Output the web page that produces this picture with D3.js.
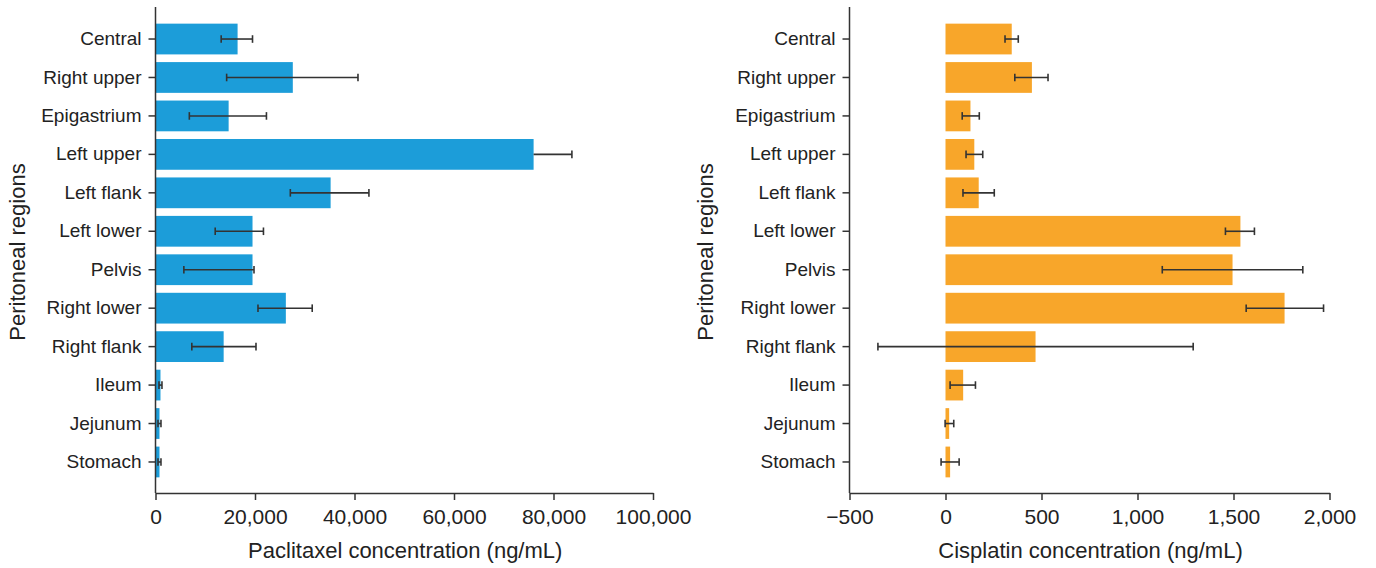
<!DOCTYPE html>
<html>
<head>
<meta charset="utf-8">
<script src="https://cdn.jsdelivr.net/npm/d3@7"></script>
<style>
  html, body { margin: 0; padding: 0; background: #fff; }
  svg { display: block; font-family: "Liberation Sans", Arial, sans-serif; }
  .axis path, .axis line { stroke: #333; stroke-width: 1.5; }
  .axis text { fill: #222; }
</style>
</head>
<body>
<svg id="chart" width="1376" height="568"></svg>
<script>
// Peritoneal regions, top to bottom
const categories = ["Central", "Right upper", "Epigastrium", "Left upper", "Left flank", "Left lower",
  "Pelvis", "Right lower", "Right flank", "Ileum", "Jejunum", "Stomach"];

// Paclitaxel concentration (ng/mL): mean with lower / upper error limits
const paclitaxelMean = [16500, 27600, 14700, 76000, 35200, 19500, 19500, 26200, 13700, 1000, 800, 800];
const paclitaxelLow  = [13200, 14300, 6800, null, 27100, 12000, 5700, 20600, 7300, 700, 500, 500];
const paclitaxelHigh = [19500, 40700, 22300, 83700, 42900, 21700, 19800, 31500, 20200, 1300, 1100, 1100];

// Cisplatin concentration (ng/mL): mean with lower / upper error limits
const cisplatinMean = [345, 450, 130, 150, 173, 1536, 1495, 1766, 469, 92, 19, 24];
const cisplatinLow  = [310, 361, 87, 107, 91, 1458, 1129, 1566, -352, 24, -2, -23];
const cisplatinHigh = [379, 534, 176, 194, 254, 1609, 1861, 1969, 1290, 156, 43, 71];

const paclitaxelTicks = [0, 20000, 40000, 60000, 80000, 100000];
const cisplatinTicks = [-500, 0, 500, 1000, 1500, 2000];

const svg = d3.select("#chart");
const axisY = 493;     // baseline of the value axis
const axisTop = 7;     // top end of the category axis line

const y = d3.scaleBand()
  .domain(categories)
  .range([19.8, 481.2])
  .paddingInner(0.2)
  .paddingOuter(0.1);

function panel({ left, right, domain, ticks, mean, low, high, color, title, yTitleX }) {
  const x = d3.scaleLinear().domain(domain).range([left, right]);
  const g = svg.append("g");
  const rows = categories.map((c, i) => ({ c, m: mean[i], lo: low[i], hi: high[i] }));

  // bars
  g.append("g").selectAll("rect").data(rows).join("rect")
    .attr("x", d => x(Math.min(0, d.m)))
    .attr("y", d => y(d.c))
    .attr("width", d => Math.abs(x(d.m) - x(0)))
    .attr("height", y.bandwidth())
    .attr("fill", color);

  // error bars
  const cap = 3.8;
  const eb = g.append("g").attr("stroke", "#333").attr("stroke-width", 1.6).attr("fill", "none");
  rows.forEach(d => {
    const cy = y(d.c) + y.bandwidth() / 2;
    const from = d.lo == null ? d.m : d.lo;
    eb.append("line").attr("x1", x(from)).attr("x2", x(d.hi)).attr("y1", cy).attr("y2", cy);
    eb.append("line").attr("x1", x(d.hi)).attr("x2", x(d.hi)).attr("y1", cy - cap).attr("y2", cy + cap);
    if (d.lo != null) {
      eb.append("line").attr("x1", x(d.lo)).attr("x2", x(d.lo)).attr("y1", cy - cap).attr("y2", cy + cap);
    }
  });

  // category axis
  const ya = g.append("g").attr("class", "axis")
    .attr("transform", `translate(${left},0)`)
    .call(d3.axisLeft(y).tickSize(7).tickPadding(7).tickSizeOuter(0));
  ya.select(".domain").remove();
  ya.selectAll("text").attr("font-size", 19);
  g.append("line").attr("class", "axisline")
    .attr("x1", left).attr("x2", left).attr("y1", axisTop).attr("y2", axisY)
    .attr("stroke", "#333").attr("stroke-width", 1.5);

  // value axis
  const xa = g.append("g").attr("class", "axis")
    .attr("transform", `translate(0,${axisY})`)
    .call(d3.axisBottom(x).tickValues(ticks).tickFormat(d3.format(",")).tickSize(7).tickPadding(9).tickSizeOuter(0));
  xa.selectAll("text").attr("font-size", 21);

  g.append("text")
    .attr("x", (left + right) / 2 + 1).attr("y", 558)
    .attr("text-anchor", "middle").attr("font-size", 22).attr("fill", "#222")
    .text(title);

  g.append("text")
    .attr("transform", `translate(${yTitleX},252) rotate(-90)`)
    .attr("text-anchor", "middle").attr("font-size", 22).attr("fill", "#222")
    .text("Peritoneal regions");
}

panel({
  left: 155.5, right: 653, domain: [0, 100000], ticks: paclitaxelTicks,
  mean: paclitaxelMean, low: paclitaxelLow, high: paclitaxelHigh,
  color: "#1c9dd9", title: "Paclitaxel concentration (ng/mL)", yTitleX: 25
});

panel({
  left: 849.5, right: 1329.5, domain: [-500, 2000], ticks: cisplatinTicks,
  mean: cisplatinMean, low: cisplatinLow, high: cisplatinHigh,
  color: "#f8a62a", title: "Cisplatin concentration (ng/mL)", yTitleX: 713
});
</script>
</body>
</html>
